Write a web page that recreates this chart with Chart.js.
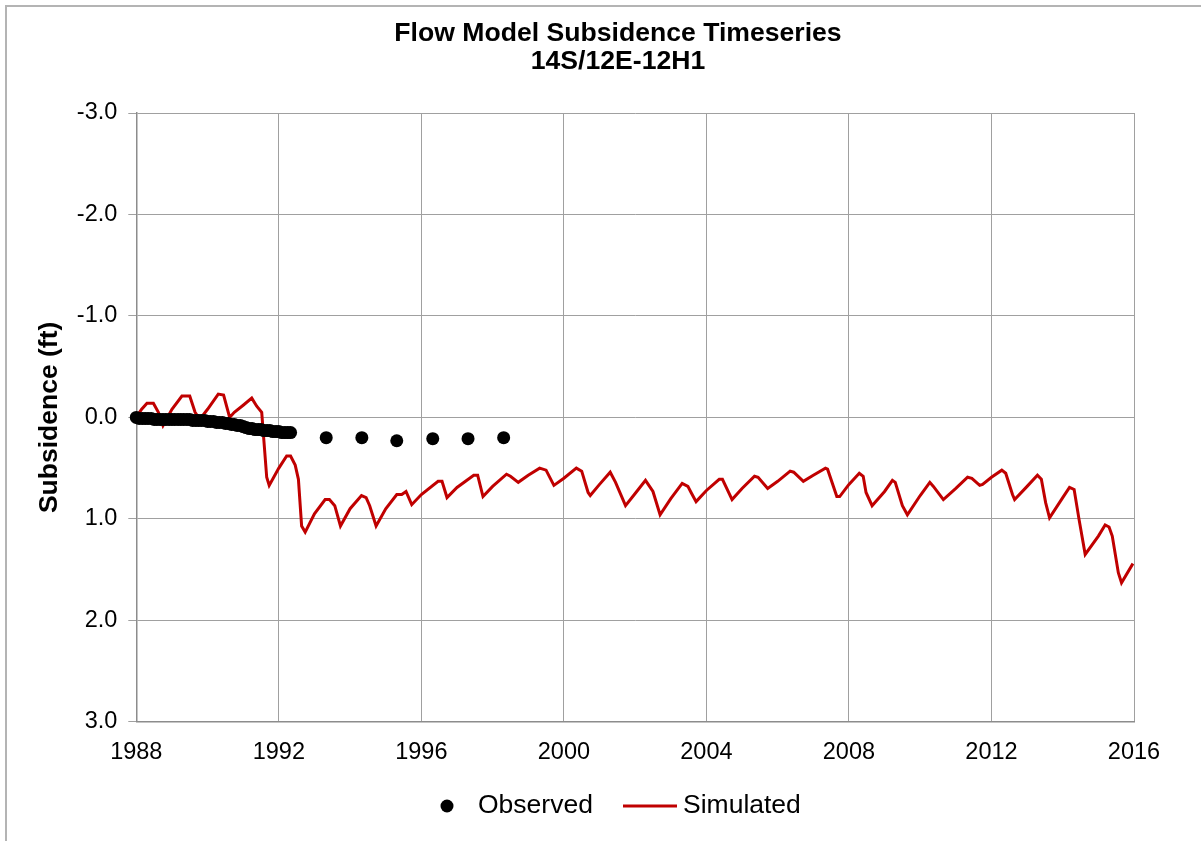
<!DOCTYPE html>
<html>
<head>
<meta charset="utf-8">
<script src="https://cdn.jsdelivr.net/npm/chart.js@4.4.1/dist/chart.umd.min.js"></script>
<style>
  body { margin: 0; background: #fff; }
  #wrap { width: 1201px; height: 841px; }
</style>
</head>
<body>
<div id="wrap"><canvas id="myChart" width="1201" height="841"></canvas></div>
<script>
const titleLines = ["Flow Model Subsidence Timeseries", "14S/12E-12H1"];
const yTitle = "Subsidence (ft)";
const xTicks = [1988, 1992, 1996, 2000, 2004, 2008, 2012, 2016];
const yTicks = [-3, -2, -1, 0, 1, 2, 3];

// Observed (extensometer + later surveys)
const obsYears = [
  1988.00, 1988.08, 1988.17, 1988.25, 1988.33, 1988.42, 1988.50, 1988.58, 1988.67, 1988.75, 1988.83, 1988.92,
  1989.00, 1989.08, 1989.17, 1989.25, 1989.33, 1989.42, 1989.50, 1989.58, 1989.67, 1989.75, 1989.83, 1989.92,
  1990.00, 1990.08, 1990.17, 1990.25, 1990.33, 1990.42, 1990.50, 1990.58, 1990.67, 1990.75, 1990.83, 1990.92,
  1991.00, 1991.08, 1991.17, 1991.25, 1991.33, 1991.42, 1991.50, 1991.58, 1991.67, 1991.75, 1991.83, 1991.92,
  1992.00, 1992.08, 1992.17, 1992.25, 1992.33,
  1993.33, 1994.33, 1995.31, 1996.32, 1997.31, 1998.31
];
const obsValues = [
  0.00, 0.01, 0.01, 0.01, 0.01, 0.01, 0.02, 0.02, 0.02, 0.02, 0.02, 0.02,
  0.02, 0.02, 0.02, 0.02, 0.02, 0.02, 0.02, 0.03, 0.03, 0.03, 0.03, 0.03,
  0.04, 0.04, 0.04, 0.05, 0.05, 0.05, 0.06, 0.06, 0.07, 0.07, 0.08, 0.08,
  0.09, 0.10, 0.11, 0.11, 0.12, 0.12, 0.12, 0.13, 0.13, 0.13, 0.14, 0.14,
  0.14, 0.15, 0.15, 0.15, 0.15,
  0.20, 0.20, 0.23, 0.21, 0.21, 0.20
];

// Simulated
const simYears = [
  1988.00, 1988.15, 1988.30, 1988.48, 1988.62, 1988.75, 1989.00, 1989.28, 1989.50, 1989.65, 1989.78,
  1990.00, 1990.30, 1990.45, 1990.62, 1990.75, 1991.00, 1991.24, 1991.38, 1991.52, 1991.66, 1991.73,
  1992.00, 1992.22, 1992.33, 1992.46, 1992.55, 1992.64, 1992.74, 1993.00, 1993.30, 1993.42, 1993.57, 1993.73,
  1994.00, 1994.32, 1994.45, 1994.55, 1994.73, 1995.00, 1995.31, 1995.45, 1995.57, 1995.73,
  1996.00, 1996.47, 1996.58, 1996.72, 1997.00, 1997.47, 1997.58, 1997.73,
  1998.00, 1998.39, 1998.50, 1998.72, 1999.00, 1999.32, 1999.50, 1999.72,
  2000.00, 2000.35, 2000.50, 2000.68, 2000.74, 2001.00, 2001.30, 2001.45, 2001.73,
  2002.00, 2002.29, 2002.50, 2002.70, 2003.00, 2003.32, 2003.48, 2003.57, 2003.71,
  2004.00, 2004.36, 2004.45, 2004.72, 2005.00, 2005.35, 2005.45, 2005.72,
  2006.00, 2006.35, 2006.45, 2006.72, 2007.00, 2007.34, 2007.40, 2007.66, 2007.74,
  2008.00, 2008.29, 2008.40, 2008.48, 2008.65, 2009.00, 2009.22, 2009.30, 2009.50, 2009.64,
  2010.00, 2010.27, 2010.37, 2010.65, 2011.00, 2011.33, 2011.45, 2011.67, 2011.75,
  2012.00, 2012.29, 2012.40, 2012.59, 2012.65, 2013.00, 2013.29, 2013.40, 2013.52, 2013.63,
  2014.00, 2014.19, 2014.32, 2014.46, 2014.63, 2015.00, 2015.19, 2015.30, 2015.39, 2015.56, 2015.65, 2015.97
];
const simValues = [
  0.00, -0.08, -0.14, -0.14, -0.05, 0.08, -0.08, -0.21, -0.21, -0.05, 0.02,
  -0.08, -0.23, -0.22, 0.00, -0.05, -0.12, -0.19, -0.11, -0.05, 0.59, 0.67,
  0.50, 0.38, 0.38, 0.47, 0.61, 1.07, 1.13, 0.95, 0.81, 0.81, 0.87, 1.07,
  0.90, 0.77, 0.79, 0.87, 1.07, 0.90, 0.76, 0.76, 0.73, 0.86,
  0.76, 0.63, 0.63, 0.79, 0.69, 0.57, 0.57, 0.78,
  0.68, 0.56, 0.58, 0.64, 0.57, 0.50, 0.52, 0.67,
  0.60, 0.50, 0.53, 0.74, 0.77, 0.66, 0.54, 0.64, 0.87,
  0.75, 0.62, 0.73, 0.96, 0.80, 0.65, 0.68, 0.74, 0.83,
  0.72, 0.61, 0.61, 0.81, 0.70, 0.58, 0.59, 0.70,
  0.63, 0.53, 0.54, 0.63, 0.57, 0.50, 0.51, 0.78, 0.78,
  0.66, 0.55, 0.58, 0.74, 0.87, 0.73, 0.62, 0.64, 0.87, 0.96,
  0.77, 0.64, 0.68, 0.81, 0.70, 0.59, 0.60, 0.67, 0.66,
  0.59, 0.52, 0.55, 0.76, 0.81, 0.68, 0.57, 0.61, 0.84, 0.99,
  0.79, 0.69, 0.71, 1.01, 1.35, 1.17, 1.06, 1.08, 1.17, 1.53, 1.63, 1.44
];

const FONT = '"Liberation Sans", Arial, sans-serif';
Chart.defaults.font.family = FONT;
Chart.defaults.color = "#000";

const obsColor = "#000000";
const simColor = "#c00000";
const gridColor = "#a0a0a0";

// outer frame, title and legend
const decorations = {
  id: "decorations",
  beforeDraw(chart) {
    const ctx = chart.ctx;
    ctx.save();
    ctx.strokeStyle = "#b4b4b4";
    ctx.lineWidth = 2;
    ctx.beginPath();
    ctx.moveTo(6, chart.height);
    ctx.lineTo(6, 6);
    ctx.lineTo(chart.width, 6);
    ctx.stroke();
    ctx.restore();
  },
  afterDraw(chart) {
    const ctx = chart.ctx;
    ctx.save();
    ctx.fillStyle = "#000";
    ctx.textAlign = "center";
    ctx.textBaseline = "middle";
    ctx.font = "bold 26.6px " + FONT;
    ctx.fillText(titleLines[0], 618, 34);
    ctx.fillText(titleLines[1], 618, 62);

    // legend
    const ly = 806;
    ctx.font = "26.5px " + FONT;
    ctx.textAlign = "left";
    ctx.beginPath();
    ctx.arc(447, ly, 6.5, 0, Math.PI * 2);
    ctx.fillStyle = obsColor;
    ctx.fill();
    ctx.fillText(chart.data.datasets[0].label, 478, ly);
    ctx.beginPath();
    ctx.moveTo(623, ly);
    ctx.lineTo(677, ly);
    ctx.strokeStyle = simColor;
    ctx.lineWidth = 3;
    ctx.stroke();
    ctx.fillStyle = "#000";
    ctx.fillText(chart.data.datasets[1].label, 683, ly);
    ctx.restore();
  }
};

const ctx = document.getElementById("myChart").getContext("2d");
const chart = new Chart(ctx, {
  type: "scatter",
  data: {
    datasets: [
      {
        label: "Observed",
        data: obsYears.map((x, i) => ({ x, y: obsValues[i] })),
        showLine: false,
        pointRadius: 6.5,
        pointBackgroundColor: obsColor,
        pointBorderWidth: 0,
        clip: false
      },
      {
        label: "Simulated",
        data: simYears.map((x, i) => ({ x, y: simValues[i] })),
        showLine: true,
        borderColor: simColor,
        borderWidth: 3,
        pointRadius: 0,
        tension: 0
      }
    ]
  },
  options: {
    responsive: false,
    animation: false,
    layout: { padding: { left: 34, right: 67, top: 113, bottom: 57 } },
    plugins: {
      legend: { display: false },
      title: { display: false },
      tooltip: { enabled: false }
    },
    scales: {
      x: {
        type: "linear",
        min: 1988,
        max: 2016,
        afterBuildTicks: s => { s.ticks = xTicks.map(v => ({ value: v })); },
        ticks: { font: { size: 23.5 }, padding: 17, callback: v => String(v), maxRotation: 0 },
        grid: { color: gridColor, drawTicks: false },
        border: { color: "#8c8c8c", width: 1.5 }
      },
      y: {
        reverse: true,
        min: -3,
        max: 3,
        afterBuildTicks: s => { s.ticks = yTicks.map(v => ({ value: v })); },
        ticks: { font: { size: 23.5 }, padding: 11, callback: v => v.toFixed(1) },
        grid: { color: gridColor, tickLength: 8 },
        border: { color: "#8c8c8c", width: 1.5 },
        title: {
          display: true,
          text: yTitle,
          font: { size: 26.5, weight: "bold" },
          padding: { top: 0, bottom: 0 }
        }
      }
    }
  },
  plugins: [decorations]
});
</script>
</body>
</html>
